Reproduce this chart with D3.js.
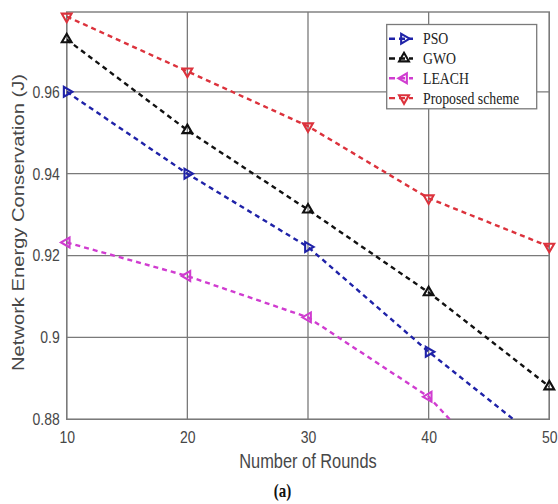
<!DOCTYPE html>
<html>
<head>
<meta charset="utf-8">
<script src="https://d3js.org/d3.v7.min.js"></script>
<style>
  html, body { margin: 0; padding: 0; background: #fff; }
  svg { display: block; }
</style>
</head>
<body>
<svg id="chart" width="558" height="504"></svg>
<script>
// Rounds on the x axis
const rounds = [10, 20, 30, 40, 50];

// Network energy conservation (J) per scheme
const psoValues      = [0.960, 0.940, 0.9221, 0.8965, 0.873];
const gwoValues      = [0.9728, 0.9506, 0.9312, 0.911, 0.888];
const leachValues    = [0.9232, 0.915, 0.9049, 0.8855, 0.854];
const proposedValues = [0.9784, 0.965, 0.9516, 0.934, 0.9222];

const seriesNames = ["PSO", "GWO", "LEACH", "Proposed scheme"];

// Tick labels
const xTicks = [10, 20, 30, 40, 50];
const yTicks = [0.88, 0.90, 0.92, 0.94, 0.96];

const series = [
  { name: seriesNames[0], values: psoValues,      color: "#1f22a8", marker: 90 },
  { name: seriesNames[1], values: gwoValues,      color: "#111111", marker: 0 },
  { name: seriesNames[2], values: leachValues,    color: "#d03cd0", marker: -90 },
  { name: seriesNames[3], values: proposedValues, color: "#dc323c", marker: 180 }
];

const svg = d3.select("#chart");
const plot = { left: 66.7, right: 549.3, top: 12, bottom: 419.3 };

const x = d3.scaleLinear().domain([10, 50]).range([plot.left, plot.right]);
const y = d3.scaleLinear().domain([0.88, 0.9795]).range([plot.bottom, plot.top]);

const gridColor = "#7a7a7a";
const textColor = "#474747";
const stretch = 1.2;

// Grid lines
const grid = svg.append("g");
grid.selectAll("line.vx").data(xTicks).join("line")
  .attr("x1", d => x(d)).attr("x2", d => x(d))
  .attr("y1", plot.top).attr("y2", plot.bottom)
  .attr("stroke", gridColor).attr("stroke-width", 1.3);
grid.selectAll("line.hy").data(yTicks).join("line")
  .attr("x1", plot.left).attr("x2", plot.right)
  .attr("y1", d => y(d)).attr("y2", d => y(d))
  .attr("stroke", gridColor).attr("stroke-width", 1.3);

// Frame
svg.append("rect")
  .attr("x", plot.left).attr("y", plot.top)
  .attr("width", plot.right - plot.left).attr("height", plot.bottom - plot.top)
  .attr("fill", "none").attr("stroke", gridColor).attr("stroke-width", 1.4);

// Axes
const xAxis = d3.axisBottom(x).tickValues(xTicks).tickSize(0).tickFormat(d3.format("d"));
const yAxis = d3.axisLeft(y).tickValues(yTicks).tickSize(0).tickFormat(d => String(+d.toFixed(2)));

const gx = svg.append("g").attr("transform", `translate(0,${plot.bottom})`).call(xAxis);
gx.select(".domain").remove();
gx.selectAll("text")
  .attr("y", 0).attr("dy", null)
  .attr("transform", `translate(0,24) scale(1,${stretch})`)
  .attr("font-family", "Liberation Sans, Arial, sans-serif")
  .attr("font-size", 14).attr("fill", textColor);

const gy = svg.append("g").attr("transform", `translate(${plot.left},0)`).call(yAxis);
gy.select(".domain").remove();
gy.selectAll("text")
  .attr("x", -7).attr("dy", "0.35em")
  .attr("transform", `scale(1,${stretch})`)
  .attr("font-family", "Liberation Sans, Arial, sans-serif")
  .attr("font-size", 14).attr("fill", textColor);
// keep scaled labels centred on their tick
gy.selectAll(".tick").each(function (d) {
  d3.select(this).attr("transform", `translate(0,${y(d)})`);
});

// Axis titles
svg.append("text")
  .attr("x", x(30)).attr("y", 468)
  .attr("text-anchor", "middle")
  .attr("transform", `translate(0,${468 - 468 * stretch}) scale(1,${stretch})`)
  .attr("font-family", "Liberation Sans, Arial, sans-serif")
  .attr("font-size", 16.4).attr("fill", textColor)
  .text("Number of Rounds");

svg.append("text")
  .attr("transform", "translate(24,222.5) rotate(-90)")
  .attr("text-anchor", "middle")
  .attr("font-family", "Liberation Sans, Arial, sans-serif")
  .attr("font-size", 17).attr("fill", textColor)
  .attr("textLength", 297).attr("lengthAdjust", "spacingAndGlyphs")
  .text("Network Energy Conservation (J)");

svg.append("text")
  .attr("x", 282.5).attr("y", 497)
  .attr("text-anchor", "middle")
  .attr("transform", `translate(0,${497 - 497 * stretch}) scale(1,${stretch})`)
  .attr("font-family", "Liberation Serif, Times New Roman, serif")
  .attr("font-weight", "bold")
  .attr("font-size", 15).attr("fill", "#111")
  .text("(a)");

// Series, clipped to the axes box
svg.append("clipPath").attr("id", "plot-clip")
  .append("rect")
  .attr("x", plot.left - 8).attr("y", plot.top - 8)
  .attr("width", plot.right - plot.left + 16)
  .attr("height", plot.bottom - plot.top + 8);

svg.append("clipPath").attr("id", "line-clip")
  .append("rect")
  .attr("x", plot.left).attr("y", plot.top)
  .attr("width", plot.right - plot.left).attr("height", plot.bottom - plot.top);

const line = d3.line().x((d, i) => x(rounds[i])).y(d => y(d));
const tri = d3.symbol().type(d3.symbolTriangle).size(42);

const marks = svg.append("g").attr("clip-path", "url(#plot-clip)");

series.forEach(s => {
  svg.append("path")
    .attr("clip-path", "url(#line-clip)")
    .attr("d", line(s.values))
    .attr("fill", "none")
    .attr("stroke", s.color)
    .attr("stroke-width", 2.4)
    .attr("stroke-dasharray", "5,4");
  marks.selectAll(null)
    .data(s.values.map((v, i) => ({ r: rounds[i], v })).filter(p => p.v >= 0.88))
    .join("path")
    .attr("d", tri)
    .attr("transform", p => `translate(${x(p.r)},${y(p.v)}) rotate(${s.marker})`)
    .attr("fill", "none")
    .attr("stroke", s.color)
    .attr("stroke-width", 2.1);
});

// Legend
const legend = svg.append("g");
legend.append("rect")
  .attr("x", 386.7).attr("y", 24.5)
  .attr("width", 150).attr("height", 84.3)
  .attr("fill", "#fff").attr("stroke", gridColor).attr("stroke-width", 1.3);

series.forEach((s, i) => {
  const cy = 38.7 + i * 19.8;
  const row = legend.append("g");
  row.append("line")
    .attr("x1", 389).attr("x2", 413).attr("y1", cy).attr("y2", cy)
    .attr("stroke", s.color).attr("stroke-width", 2.4)
    .attr("stroke-dasharray", "6,4");
  row.append("path")
    .attr("d", tri)
    .attr("transform", `translate(404,${cy}) rotate(${s.marker})`)
    .attr("fill", "none").attr("stroke", s.color).attr("stroke-width", 2.1);
  row.append("text")
    .attr("x", 423).attr("y", cy)
    .attr("dy", "0.35em")
    .attr("transform", `translate(0,${cy - cy * stretch}) scale(1,${stretch})`)
    .attr("font-family", "Liberation Serif, Times New Roman, serif")
    .attr("font-size", 13.8).attr("fill", "#222")
    .text(s.name);
});
</script>
</body>
</html>
